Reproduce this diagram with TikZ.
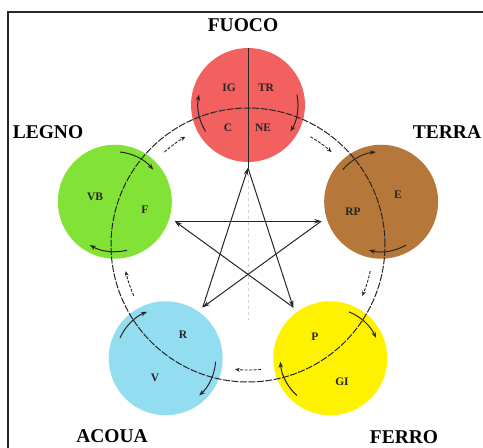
\documentclass[tikz,border=0pt]{standalone}
\usepackage{fontspec}
\setmainfont{Liberation Serif}
\usetikzlibrary{arrows.meta}
\definecolor{fuococol}{HTML}{F26160}
\definecolor{legnocol}{HTML}{82E236}
\definecolor{terracol}{HTML}{B5783A}
\definecolor{acquacol}{HTML}{92DDF0}
\definecolor{ferrocol}{HTML}{FFF200}
\begin{document}
\begin{tikzpicture}[x=1pt,y=1pt,
 elem/.style={circle, minimum size=114pt, inner sep=0pt, draw=none},
 title/.style={font=\bfseries\fontsize{19.5}{19.5}\selectfont, inner sep=0pt},
 organ/.style={font=\bfseries\fontsize{11.5}{11.5}\selectfont, inner sep=0pt, text=black!85},
 kearrow/.style={-{Stealth[length=7pt,width=4.5pt]}, line width=1pt, black!85},
 cycarrow/.style={-{Stealth[length=6pt,width=4.5pt]}, line width=1pt, black!85},
 shenarrow/.style={-{Stealth[length=5pt,width=4pt]}, line width=0.9pt, dash pattern=on 3pt off 1.5pt, black!85},
 ringline/.style={line width=1pt, dash pattern=on 7pt off 1.5pt, black!85}]
\useasboundingbox (0,0) rectangle (483,448);
\coordinate (O) at (248,203);
% element circles
\node[elem, fill=fuococol] (fuoco) at ([shift={(90:140)}]O) {};
\node[elem, fill=terracol] (terra) at ([shift={(18:140)}]O) {};
\node[elem, fill=ferrocol] (ferro) at ([shift={(-54:140)}]O) {};
\node[elem, fill=acquacol] (acqua) at ([shift={(234:140)}]O) {};
\node[elem, fill=legnocol] (legno) at ([shift={(162:140)}]O) {};
% frame
\draw[line width=1.4pt, black!85] (8,0) -- (8,436) -- (483,436);
% star vertices
\coordinate (sF) at ([shift={(90:77)}]O);
\coordinate (sE) at ([shift={(18:77)}]O);
\coordinate (sM) at ([shift={(-54:77)}]O);
\coordinate (sA) at ([shift={(234:77)}]O);
\coordinate (sW) at ([shift={(162:77)}]O);
\coordinate (gbot) at (248,128);
% vertical line in fire circle and faint guide
\draw[line width=0.8pt, black!85] (fuoco.north) -- (sF);
\draw[black!18, dashed, line width=0.5pt] (sF) -- (gbot);
% ring
\draw[ringline] (O) circle[radius=137];
% control cycle (star)
\draw[kearrow] (sF) -- (sM);
\draw[kearrow] (sM) -- (sW);
\draw[kearrow] (sW) -- (sE);
\draw[kearrow] (sE) -- (sA);
\draw[kearrow] (sA) -- (sF);
% curved arrows at each element
\foreach \n/\t in {fuoco/90, terra/18, ferro/-54, acqua/234, legno/162}{
  \draw[cycarrow] ([shift={(\t+122:50)}]\n.center) arc[start angle=\t+122, end angle=\t+78, radius=50];
  \draw[cycarrow] ([shift={(\t-78:50)}]\n.center) arc[start angle=\t-78, end angle=\t-122, radius=50];
}
% small arrows between elements
\foreach \p in {126,54,-18,-90,198}{
  \draw[shenarrow] ([shift={(\p+6:125)}]O) arc[start angle=\p+6, end angle=\p-6, radius=125];
}
% titles
\node[title] (tF) at (243,423) {FUOCO};
\node[title] (tT) at (447,316) {TERRA};
\node[title] (tM) at (404,11) {FERRO};
\node[title] (tA) at (112,12) {ACOUA};
\node[title] (tW) at (48,316) {LEGNO};
% organ labels
\node[organ] (ig) at (229,360) {IG};
\node[organ] (tr) at (266,360) {TR};
\node[organ] (c) at (228,320) {C};
\node[organ] (ne) at (263,320) {NE};
\node[organ] (vb) at (95,251) {VB};
\node[organ] (f) at (145,238) {F};
\node[organ] (rp) at (353,236) {RP};
\node[organ] (e) at (398,253) {E};
\node[organ] (r) at (183,113) {R};
\node[organ] (v) at (155,70) {V};
\node[organ] (p) at (315,111) {P};
\node[organ] (gi) at (342,66) {GI};
\end{tikzpicture}
\end{document}
